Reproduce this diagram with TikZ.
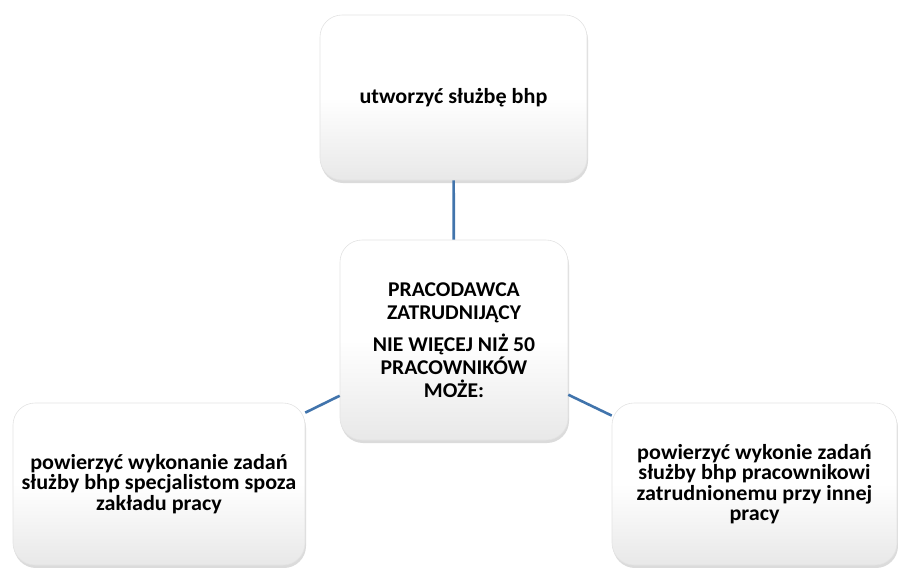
\documentclass[tikz,border=0pt]{standalone}
\usepackage{fontspec}
\setmainfont{Carlito}[FakeStretch=1.03]
\usetikzlibrary{shadows}
\definecolor{linkblue}{HTML}{4174AC}
\tikzset{
  card/.style={rectangle, rounded corners=22pt, draw=gray!22, line width=0.6pt,
    top color=white, bottom color=gray!18, middle color=white,
    drop shadow={shadow xshift=1pt, shadow yshift=-3pt, opacity=0.4, fill=gray!70},
    align=center, font=\bfseries\fontsize{21.5}{20.5}\selectfont, text=black, inner sep=4pt},
  link/.style={draw=linkblue, line width=2.6pt}
}
\begin{document}
\begin{tikzpicture}[x=1pt, y=-1pt]
  \useasboundingbox (0,0) rectangle (898,568);
  % the four cards
  \node[card, minimum width=267pt, minimum height=165pt] (top) at (453.5,97.5)
    {utworzyć służbę bhp};
  \node[card, minimum width=228pt, minimum height=200pt,
        font=\bfseries\fontsize{21}{23}\selectfont] (mid) at (454,340)
    {PRACODAWCA\\ZATRUDNIJĄCY\\[9pt]NIE WIĘCEJ NIŻ 50\\PRACOWNIKÓW\\MOŻE:};
  \node[card, minimum width=292pt, minimum height=162pt] (left) at (159,484)
    {powierzyć wykonanie zadań\\służby bhp specjalistom spoza\\zakładu pracy};
  \node[card, minimum width=285pt, minimum height=162pt] (right) at (754.5,484)
    {powierzyć wykonie zadań\\służby bhp pracownikowi\\zatrudnionemu przy innej\\pracy};
  % connectors from the centre card
  \draw[link] (mid) -- (top);
  \draw[link] (mid) -- (left);
  \draw[link] (mid) -- (right);
\end{tikzpicture}
\end{document}
